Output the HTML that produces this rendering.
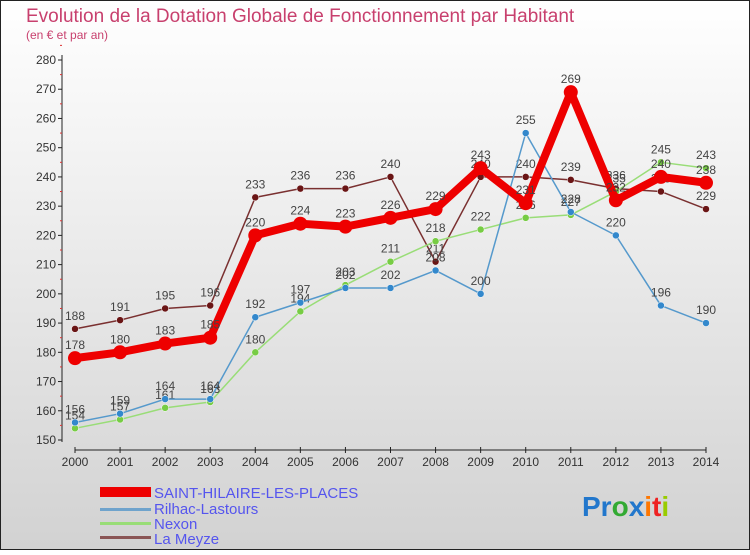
<!DOCTYPE html>
<html><head><meta charset="utf-8"><style>
body{margin:0;width:750px;height:550px;overflow:hidden;font-family:"Liberation Sans",sans-serif}
</style></head><body>
<svg id="c" width="750" height="550" xmlns="http://www.w3.org/2000/svg">
<defs><linearGradient id="bg" x1="0" y1="0" x2="0" y2="1"><stop offset="0" stop-color="#ffffff"/><stop offset="1" stop-color="#d2d2d2"/></linearGradient></defs>
<rect x="0.5" y="0.5" width="749" height="549" fill="url(#bg)" stroke="#222"/>
<text x="26" y="22" font-size="19" fill="#c8406e">Evolution de la Dotation Globale de Fonctionnement par Habitant</text>
<text x="26" y="39" font-size="12" fill="#c8406e">(en € et par an)</text>
<g id="axes"></g>
<g id="series"></g>
<g id="legend" font-size="15" fill="#5555ee">
<rect x="100" y="487" width="51" height="10" fill="#ee0000"/>
<text x="154" y="498">SAINT-HILAIRE-LES-PLACES</text>
<rect x="100" y="508" width="51" height="3" fill="#6fa3cc"/>
<text x="154" y="514">Rilhac-Lastours</text>
<rect x="100" y="522" width="51" height="3" fill="#99dd77"/>
<text x="154" y="529">Nexon</text>
<rect x="100" y="536" width="51" height="3" fill="#8a5555"/>
<text x="154" y="544">La Meyze</text>
</g>
<g font-size="28" font-weight="bold">
<text x="582" y="516"><tspan fill="#2277cc">Pr</tspan><tspan fill="#33aa33">o</tspan><tspan fill="#2277cc">x</tspan><tspan fill="#ff7700">i</tspan><tspan fill="#ee2222">t</tspan><tspan fill="#99cc00">i</tspan></text>
</g>
</svg>
<script>
const years=[2000,2001,2002,2003,2004,2005,2006,2007,2008,2009,2010,2011,2012,2013,2014];
const yTicks=[150,160,170,180,190,200,210,220,230,240,250,260,270,280];
const saintHilaire=[178,180,183,185,220,224,223,226,229,243,231,269,232,240,238];
const rilhac=[156,159,164,164,192,197,202,202,208,200,255,228,220,196,190];
const nexon=[154,157,161,163,180,194,203,211,218,222,226,227,235,245,243];
const laMeyze=[188,191,195,196,233,236,236,240,211,240,240,239,236,235,229];
const NS="http://www.w3.org/2000/svg";
const X=i=>75+i*(706-75)/(years.length-1);
const Y=v=>440-(v-150)*(380/130);
function mk(t,a,p){const e=document.createElementNS(NS,t);for(const k in a)e.setAttribute(k,a[k]);p.appendChild(e);return e;}
const ax=document.getElementById('axes');
const yl=mk('line',{x1:62,y1:55,x2:62,y2:442,stroke:'#222'},ax);


yTicks.forEach(v=>{
 mk('line',{x1:58,x2:62,y1:Y(v),y2:Y(v),stroke:'#222'},ax);
 mk('line',{x1:60,x2:62,y1:Y(v+5),y2:Y(v+5),stroke:'#d33'},ax);
 const t=mk('text',{x:56,y:Y(v)+4,'text-anchor':'end','font-size':12,fill:'#333'},ax);t.textContent=v;
 
 
});
const xl=mk('line',{x1:75,y1:450,x2:706,y2:450,stroke:'#222'},ax);


years.forEach((yr,i)=>{
 mk('line',{x1:X(i),x2:X(i),y1:447,y2:453,stroke:'#222'},ax);
 const t=mk('text',{x:X(i),y:466,'text-anchor':'middle','font-size':12,fill:'#333'},ax);t.textContent=yr;
 
 
});
const sg=document.getElementById('series');
const series=[
 {n:'la-meyze',d:laMeyze,c:'#7a3030',f:'#6a1515',w:1.5,r:3.5},
 {n:'nexon',d:nexon,c:'#99dd77',f:'#77cc44',w:1.5,r:3.5},
 {n:'rilhac',d:rilhac,c:'#5599cc',f:'#3388cc',w:1.5,r:3.5},
 {n:'saint-hilaire',d:saintHilaire,c:'#ee0000',f:'#ee0000',w:8,r:7}
];
series.forEach(s=>{
 const g=mk('g',{},sg);
 
 
 const p=mk('polyline',{points:s.d.map((v,i)=>X(i)+','+Y(v)).join(' '),fill:'none',stroke:s.c,'stroke-width':s.w,'stroke-linejoin':'round'},g);
 
 
 s.d.forEach((v,i)=>{
  const c=mk('circle',{cx:X(i),cy:Y(v),r:s.r,fill:s.f,stroke:s.w>2?'none':'#fff','stroke-width':0.5},g);
  
  
  const t=mk('text',{x:X(i),y:Y(v)-9,'text-anchor':'middle','font-size':12,fill:'#444'},g);t.textContent=v;
  
  
 });
});
</script>
</body></html>
